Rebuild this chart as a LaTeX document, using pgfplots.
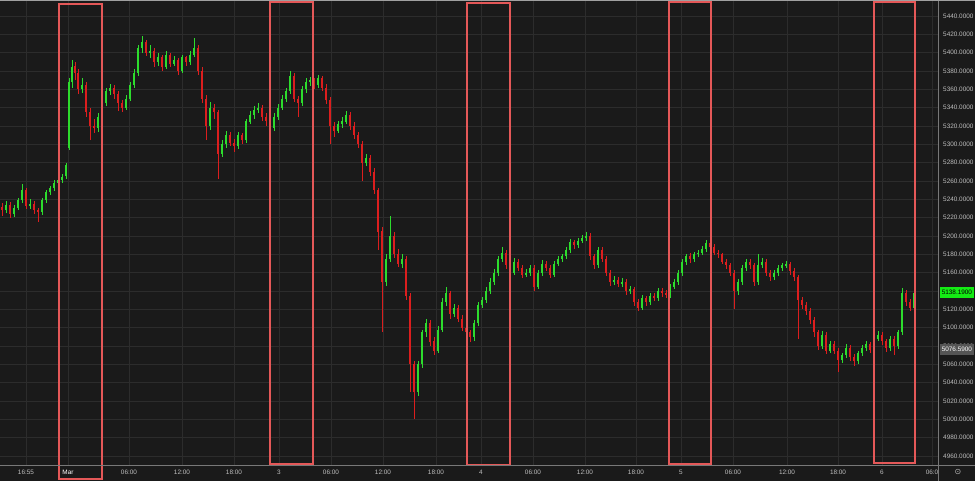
\documentclass[border=0pt]{standalone}
\usepackage{fontspec}
\setmainfont{Liberation Sans}
\newfontfamily\symfont{DejaVu Sans}
\usepackage{pgfplots}
\usepackage{pgfplotstable}
\pgfplotsset{compat=1.18}

\definecolor{bg}{RGB}{26,26,26}
\definecolor{gridc}{RGB}{44,44,44}
\definecolor{upc}{RGB}{45,220,45}
\definecolor{dnc}{RGB}{220,30,30}
\definecolor{boxc}{RGB}{228,88,88}
\definecolor{lbl}{RGB}{190,190,190}
\definecolor{axl}{RGB}{120,120,120}
\definecolor{lastc}{RGB}{20,235,20}
\definecolor{prevc}{RGB}{85,85,85}
\newcommand\lblfont{\fontsize{6.4}{7}\selectfont}

% x = bar position on the time scale, o h l c = open high low close
\pgfplotstableread{
x o h l c
2 5232 5236 5222 5228
6 5228 5238 5225 5234
10 5234 5237 5220 5224
14 5224 5234 5221 5231
18 5231 5242 5228 5239
22 5239 5257 5236 5250
26 5250 5252 5230 5233
30 5233 5240 5230 5235
34 5235 5238 5224 5228
38 5228 5231 5215 5226
42 5226 5242 5223 5239
46 5239 5250 5236 5248
50 5248 5255 5245 5252
54 5252 5261 5249 5258
58 5258 5263 5254 5261
62 5261 5268 5258 5265
66 5265 5280 5262 5277
69 5296 5372 5294 5368
72 5368 5392 5362 5385
75 5385 5390 5370 5378
78 5378 5382 5355 5360
82 5360 5372 5356 5365
86 5365 5368 5330 5335
90 5335 5340 5305 5320
94 5320 5328 5312 5318
98 5318 5334 5314 5330
102 5330 5348 5326 5345
106 5345 5362 5342 5358
110 5358 5366 5354 5362
114 5362 5365 5350 5355
118 5355 5358 5336 5345
122 5345 5348 5335 5340
126 5340 5354 5338 5350
130 5350 5368 5347 5365
134 5365 5382 5362 5378
138 5378 5408 5375 5405
142 5405 5418 5400 5412
146 5412 5414 5396 5400
150 5400 5408 5394 5402
154 5402 5405 5385 5390
158 5390 5400 5386 5395
162 5395 5398 5380 5385
166 5385 5402 5382 5398
170 5398 5400 5384 5388
174 5388 5396 5385 5392
178 5392 5394 5376 5380
182 5380 5398 5378 5395
186 5395 5397 5386 5390
190 5390 5402 5387 5398
194 5398 5416 5395 5405
198 5405 5408 5376 5380
202 5380 5384 5345 5350
206 5350 5354 5305 5320
210 5320 5346 5316 5340
214 5340 5344 5328 5335
218 5335 5338 5262 5290
222 5290 5305 5286 5300
226 5300 5315 5296 5310
230 5310 5313 5298 5302
234 5302 5306 5292 5298
238 5298 5314 5295 5310
242 5310 5313 5300 5305
246 5305 5328 5302 5325
250 5325 5336 5322 5332
254 5332 5342 5328 5338
258 5338 5345 5334 5340
262 5340 5343 5326 5330
266 5330 5334 5320 5325
270 5325 5328 5314 5318
274 5318 5334 5315 5330
278 5330 5344 5327 5340
282 5340 5354 5337 5350
286 5350 5362 5346 5358
290 5358 5380 5355 5375
294 5375 5378 5346 5350
298 5350 5353 5330 5345
302 5345 5364 5342 5360
306 5360 5372 5356 5368
310 5368 5374 5364 5370
314 5370 5373 5360 5365
318 5365 5376 5362 5372
322 5372 5375 5358 5362
326 5362 5366 5344 5348
330 5348 5352 5300 5320
334 5320 5324 5308 5315
338 5315 5326 5312 5322
342 5322 5330 5318 5325
346 5325 5336 5322 5332
350 5332 5335 5316 5320
354 5320 5324 5306 5310
358 5310 5314 5296 5300
362 5300 5304 5260 5280
366 5280 5290 5276 5285
370 5285 5288 5266 5270
374 5270 5274 5246 5250
378 5250 5252 5185 5205
382 5205 5210 5095 5150
386 5150 5180 5146 5175
390 5175 5222 5172 5200
394 5200 5204 5176 5180
398 5180 5186 5166 5170
402 5170 5180 5165 5175
406 5175 5178 5130 5135
410 5135 5138 5030 5060
414 5060 5064 5000 5030
418 5030 5064 5026 5060
422 5060 5098 5056 5095
426 5095 5110 5090 5105
430 5105 5108 5080 5085
434 5085 5090 5070 5075
438 5075 5102 5072 5098
442 5098 5132 5095 5128
446 5128 5145 5124 5138
450 5138 5140 5110 5115
454 5115 5126 5112 5122
458 5122 5125 5106 5110
462 5110 5114 5096 5100
466 5100 5104 5090 5095
470 5095 5098 5084 5090
474 5090 5108 5086 5105
478 5105 5128 5102 5125
482 5125 5134 5122 5130
486 5130 5144 5127 5140
490 5140 5154 5137 5150
494 5150 5164 5147 5160
498 5160 5178 5157 5175
502 5175 5188 5172 5182
506 5182 5185 5164 5168
510 5168 5172 5156 5160
514 5160 5176 5157 5172
518 5172 5175 5162 5165
522 5165 5168 5154 5158
526 5158 5164 5155 5160
530 5160 5168 5157 5165
534 5165 5168 5140 5145
538 5145 5163 5142 5160
542 5160 5174 5157 5170
546 5170 5173 5162 5165
550 5165 5168 5154 5158
554 5158 5173 5155 5170
558 5170 5178 5167 5175
562 5175 5181 5172 5178
566 5178 5188 5175 5185
570 5185 5197 5182 5194
574 5194 5196 5186 5190
578 5190 5198 5187 5195
582 5195 5201 5192 5198
586 5198 5205 5195 5200
590 5200 5203 5174 5178
594 5178 5181 5164 5168
598 5168 5188 5165 5185
602 5185 5188 5172 5175
606 5175 5178 5156 5160
610 5160 5163 5146 5150
614 5150 5156 5147 5152
618 5152 5155 5144 5148
622 5148 5154 5145 5150
626 5150 5153 5136 5140
630 5140 5146 5137 5142
634 5142 5145 5124 5128
638 5128 5131 5118 5122
642 5122 5136 5119 5132
646 5132 5135 5124 5128
650 5128 5138 5125 5135
654 5135 5138 5129 5132
658 5132 5143 5129 5140
662 5140 5143 5134 5138
666 5138 5141 5132 5136
670 5136 5148 5133 5145
674 5145 5153 5142 5150
678 5150 5163 5147 5160
682 5160 5175 5157 5172
686 5172 5181 5169 5178
690 5178 5181 5171 5175
694 5175 5183 5172 5180
698 5180 5185 5177 5182
702 5182 5189 5179 5186
706 5186 5196 5183 5192
710 5192 5195 5185 5188
714 5188 5191 5179 5182
718 5182 5185 5176 5180
722 5180 5182 5169 5172
726 5172 5175 5164 5168
730 5168 5171 5157 5160
734 5160 5163 5120 5140
738 5140 5153 5136 5150
742 5150 5168 5147 5165
746 5165 5175 5162 5172
750 5172 5175 5164 5168
754 5168 5171 5146 5150
758 5150 5180 5147 5168
762 5168 5176 5165 5172
766 5172 5175 5156 5160
770 5160 5163 5151 5155
774 5155 5163 5152 5160
778 5160 5168 5157 5165
782 5165 5171 5162 5168
786 5168 5173 5165 5170
790 5170 5172 5158 5162
794 5162 5165 5151 5155
798 5155 5158 5088 5130
802 5130 5134 5120 5125
806 5125 5128 5114 5118
810 5118 5121 5104 5108
814 5108 5112 5090 5095
818 5095 5098 5076 5080
822 5080 5096 5077 5092
826 5092 5095 5071 5075
830 5075 5086 5072 5082
834 5082 5085 5071 5075
838 5075 5078 5052 5065
842 5065 5073 5062 5070
846 5070 5082 5067 5078
850 5078 5081 5064 5068
854 5068 5071 5058 5064
858 5064 5075 5061 5072
862 5072 5081 5069 5078
866 5078 5085 5075 5082
870 5082 5085 5072 5076
874 5076 5091 5073 5088
878 5088 5096 5085 5092
882 5092 5095 5081 5085
886 5085 5088 5074 5078
890 5078 5091 5075 5088
894 5088 5091 5070 5080
898 5080 5098 5077 5095
902 5095 5143 5092 5138
906 5138 5141 5124 5128
910 5128 5131 5118 5122
914 5122 5140 5119 5138.19
}\candles

\begin{document}
\begin{tikzpicture}
\path[use as bounding box] (0,0) rectangle (975pt,481pt);
\fill[bg] (0,0) rectangle (975pt,481pt);
\begin{axis}[
  at={(0pt,16pt)}, anchor=south west,
  scale only axis, width=938pt, height=465pt,
  xmin=0, xmax=938, ymin=4950.2, ymax=5457.5,
  clip=false,
  axis line style={draw=none},
  major tick length=0pt,
  grid=major,
  grid style={gridc, line width=0.6pt},
  xtick={26,68,129,182,234,279,331,383,436,481,533,585,636,681,733,787,838,882,932},
  xticklabels={16:55,\textcolor{white}{Mar},06:00,12:00,18:00,3,06:00,12:00,18:00,4,06:00,12:00,18:00,5,06:00,12:00,18:00,6,06:0},
  xticklabel style={font=\lblfont, text=lbl, anchor=center, yshift=-7pt, inner sep=0pt},
  ytick={4960,4980,...,5440},
  yticklabel pos=right,
  yticklabel style={font=\lblfont, text=lbl, anchor=west, inner sep=0pt, xshift=5pt,
    /pgf/number format/fixed, /pgf/number format/fixed zerofill,
    /pgf/number format/precision=4, /pgf/number format/1000 sep={}},
  /pgf/number format/assume math mode=true,
  candle/.style 2 args={draw=none, mark=none, forget plot,
    error bars/.cd, y dir=both, y explicit, error mark=none,
    error bar style={solid, draw=#1, line width=#2}},
]
% wicks
\addplot[candle={upc}{0.8pt}]
  table[x=x, y expr={\thisrow{c}>=\thisrow{o} ? (\thisrow{h}+\thisrow{l})/2 : nan},
        y error expr={(\thisrow{h}-\thisrow{l})/2}] {\candles};
\addplot[candle={dnc}{0.8pt}]
  table[x=x, y expr={\thisrow{c}<\thisrow{o} ? (\thisrow{h}+\thisrow{l})/2 : nan},
        y error expr={(\thisrow{h}-\thisrow{l})/2}] {\candles};
% bodies
\addplot[candle={upc}{2.7pt}]
  table[x=x, y expr={\thisrow{c}>=\thisrow{o} ? (\thisrow{o}+\thisrow{c})/2 : nan},
        y error expr={max(abs(\thisrow{c}-\thisrow{o})/2,0.6)}] {\candles};
\addplot[candle={dnc}{2.7pt}]
  table[x=x, y expr={\thisrow{c}<\thisrow{o} ? (\thisrow{o}+\thisrow{c})/2 : nan},
        y error expr={max(abs(\thisrow{c}-\thisrow{o})/2,0.6)}] {\candles};

% highlighted session opens
\draw[boxc, line width=1.8pt] (axis cs:59,5453.1) rectangle (axis cs:102,4935.0);
\draw[boxc, line width=1.8pt] (axis cs:270,5455.3) rectangle (axis cs:313,4951.3);
\draw[boxc, line width=1.8pt] (axis cs:467,5454.2) rectangle (axis cs:510,4950.2);
\draw[boxc, line width=1.8pt] (axis cs:669,5455.3) rectangle (axis cs:711,4951.3);
\draw[boxc, line width=1.8pt] (axis cs:874,5455.3) rectangle (axis cs:915,4952.4);

% price tags
\node[fill=prevc, text=white, font=\lblfont, inner sep=1.6pt, anchor=west, minimum height=11pt]
  at (axis cs:940,5076.59) {5076.5900};
\node[fill=lastc, text=black, font=\lblfont, inner sep=1.6pt, anchor=west, minimum height=11pt]
  at (axis cs:940,5138.19) {5138.1900};
\end{axis}
\draw[axl, line width=0.8pt] (0,16pt) -- (975pt,16pt);
\draw[axl, line width=0.8pt] (938pt,0) -- (938pt,481pt);
\draw[axl!70!white, line width=0.8pt] (0,480.6pt) -- (975pt,480.6pt);
\node[text=lbl, font=\symfont\fontsize{8}{9}\selectfont] at (958pt,9pt) {⊙};
\end{tikzpicture}
\end{document}
